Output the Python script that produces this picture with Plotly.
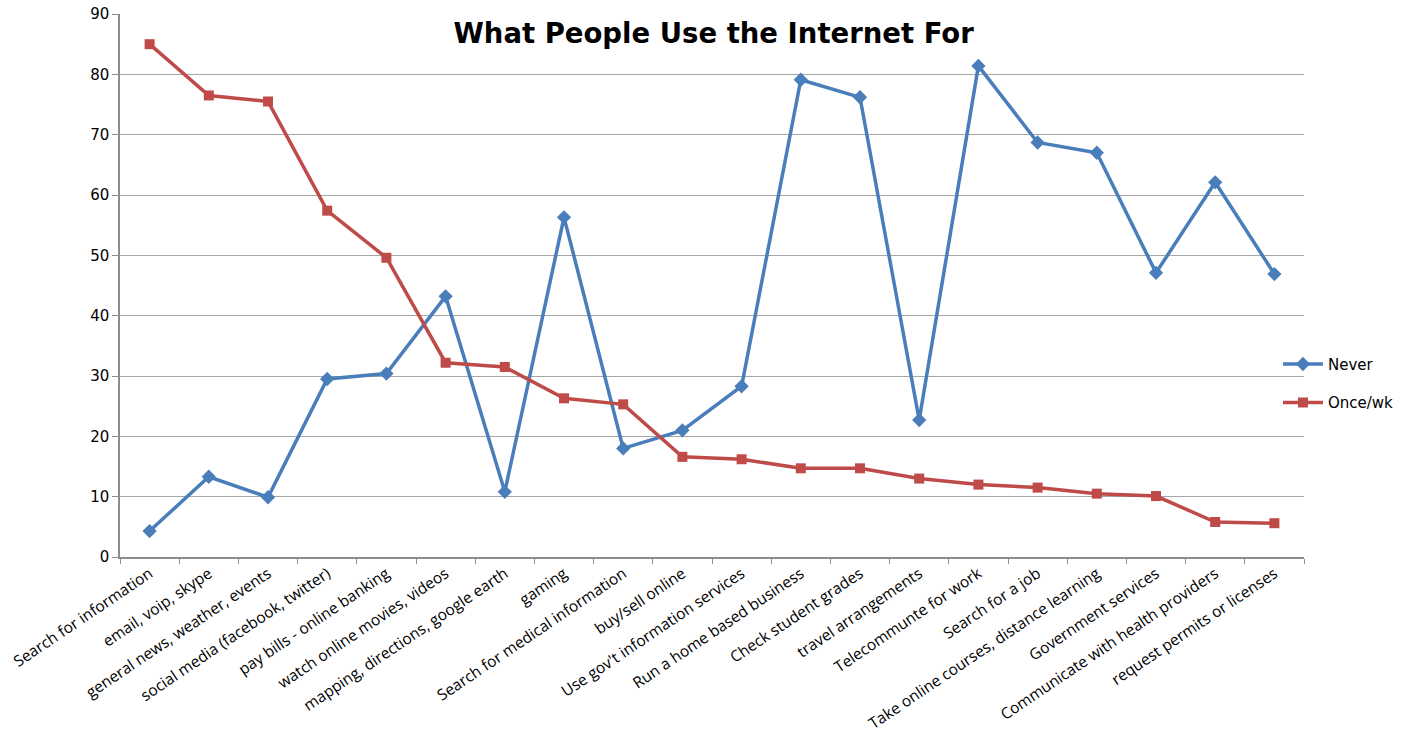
import plotly.graph_objects as go

categories = [
    "Search for information", "email, voip, skype", "general news, weather, events",
    "social media (facebook, twitter)", "pay bills - online banking",
    "watch online movies, videos", "mapping, directions, google earth", "gaming",
    "Search for medical information", "buy/sell online", "Use gov't information services",
    "Run a home based business", "Check student grades", "travel arrangements",
    "Telecommunte for work", "Search for a job", "Take online courses, distance learning",
    "Government services", "Communicate with health providers", "request permits or licenses",
]
never = [4.3, 13.3, 9.9, 29.5, 30.4, 43.2, 10.8, 56.3, 18.0, 21.0, 28.3, 79.1, 76.2, 22.7,
         81.4, 68.7, 67.0, 47.1, 62.1, 46.9]
once_wk = [85.0, 76.5, 75.5, 57.4, 49.6, 32.2, 31.5, 26.3, 25.3, 16.6, 16.2, 14.7, 14.7, 13.0,
           12.0, 11.5, 10.5, 10.1, 5.8, 5.6]
y_ticks = [0, 10, 20, 30, 40, 50, 60, 70, 80, 90]

fig = go.Figure()
fig.add_trace(go.Scatter(
    x=categories, y=never, name="Never", mode="lines+markers",
    line=dict(color="#4a7ebb", width=3.5),
    marker=dict(symbol="diamond", size=11, color="#4a7ebb"),
    legendgroup="a",
))
fig.add_trace(go.Scatter(
    x=categories, y=once_wk, name="Once/wk", mode="lines+markers",
    line=dict(color="#be4b48", width=3.5),
    marker=dict(symbol="square", size=10, color="#be4b48"),
    legendgroup="b",
))

fig.update_layout(
    width=1416, height=740,
    margin=dict(l=120, r=112, t=14, b=183, autoexpand=False),
    paper_bgcolor="white", plot_bgcolor="white",
    title=dict(text="<b>What People Use the Internet For</b>", x=0.504, xanchor="center",
               y=0.955, yanchor="middle", automargin=False,
               font=dict(family="DejaVu Sans", size=27.5, color="black")),
    legend=dict(x=0.978, xanchor="left", y=0.32, yanchor="middle", itemwidth=40,
                font=dict(family="DejaVu Sans", size=15, color="black"),
                traceorder="grouped", tracegroupgap=16, bgcolor="rgba(0,0,0,0)"),
    showlegend=True,
)
fig.update_xaxes(
    type="category", range=[-0.5, 19.5], tickangle=-34, tickson="boundaries",
    ticks="outside", ticklen=5, automargin=False,
    tickcolor="#8c8c8c", showline=True, linecolor="#8c8c8c", linewidth=1.5,
    showgrid=False, tickfont=dict(family="Open Sans", size=15.5, color="black"),
)
fig.update_yaxes(
    range=[0, 90], tickvals=y_ticks, ticks="outside", ticklen=6, tickcolor="#8c8c8c",
    showline=True, linecolor="#8c8c8c", linewidth=1.5, automargin=False,
    showgrid=True, gridcolor="#a6a6a6", gridwidth=1, zeroline=False,
    tickfont=dict(family="DejaVu Sans", size=15, color="black"),
)
fig.write_html("out.html")
